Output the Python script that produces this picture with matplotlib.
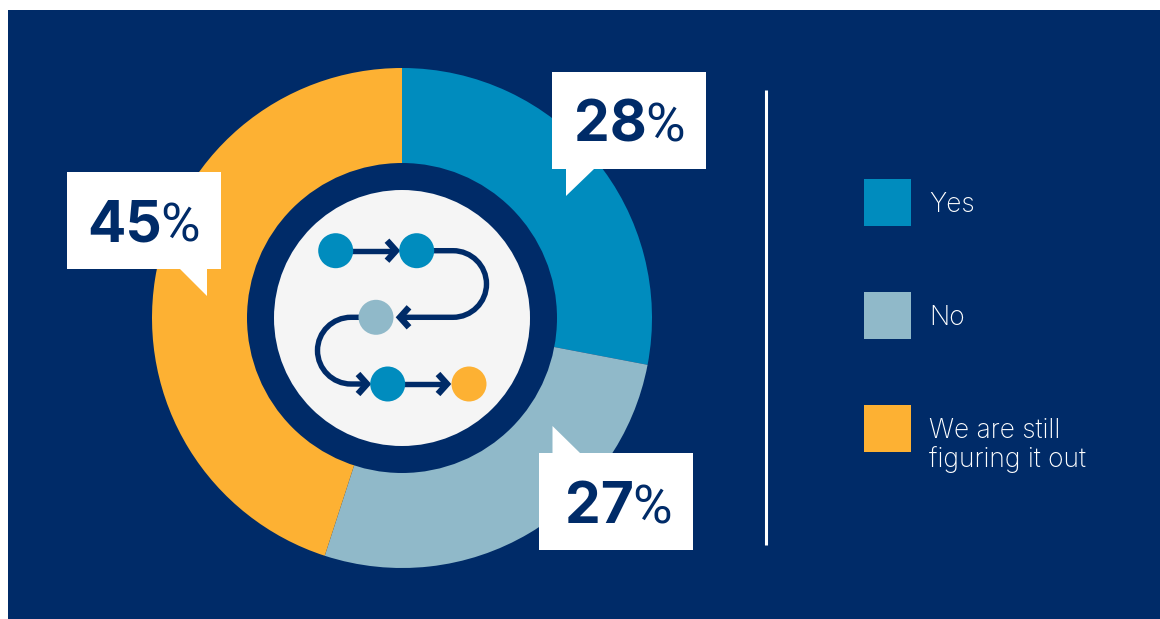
import matplotlib
matplotlib.use("Agg")
import matplotlib.pyplot as plt
from matplotlib.patches import Circle, Rectangle, Polygon, PathPatch
from matplotlib.path import Path

categories = ["Yes", "No", "We are still\nfiguring it out"]
shares = [28, 27, 45]
colors = ["#008CBE", "#90B9C9", "#FDB133"]

NAVY = "#002B68"
W, H = 1160, 619
plt.rcParams["font.family"] = ["Inter", "DejaVu Sans"]


def flip(y):  # pixel rows count from the top, the axes from the bottom
    return H - y


fig = plt.figure(figsize=(W / 100, H / 100), dpi=100, facecolor="white")
ax = fig.add_axes([0, 0, 1, 1])
ax.axis("off")

ax.add_patch(Rectangle((8, 0), W - 8, flip(10), facecolor=NAVY, edgecolor="none", zorder=0))

# donut
cx, cy = 402, flip(318)
ax.pie(shares, colors=colors, startangle=90, counterclock=False, radius=250,
       center=(cx, cy), frame=True, wedgeprops={"linewidth": 0})
ax.add_patch(Circle((cx, cy), 155, facecolor=NAVY, edgecolor="none", zorder=3))
ax.add_patch(Circle((cx, cy), 128, facecolor="#F5F5F5", edgecolor="none", zorder=4))
ax.set_xlim(0, W)
ax.set_ylim(0, H)
ax.set_aspect("equal")
ax.axis("off")


# flow icon in the middle
def stroke(verts, codes=None, lw=3.9):
    verts = [(x, flip(y)) for x, y in verts]
    path = Path(verts, codes) if codes else Path(verts)
    ax.add_patch(PathPatch(path, facecolor="none", edgecolor=NAVY, lw=lw, zorder=5,
                           capstyle="butt", joinstyle="miter"))


def chevron(x, y, direction):
    stroke([(x - direction * 12, y - 10), (x - direction * 3, y), (x - direction * 12, y + 10)], lw=4.6)


C4 = Path.CURVE4
k = 0.55 * 33.5
stroke([(345, 250.7), (396, 250.7)])
chevron(399, 250.7, 1)
stroke([(430, 250.7), (453, 250.7),
        (453 + k, 250.7), (486.5, 284 - k), (486.5, 284),
        (486.5, 284 + k), (453 + k, 317.3), (453, 317.3),
        (400, 317.3)],
       [Path.MOVETO, Path.LINETO, C4, C4, C4, C4, C4, C4, Path.LINETO])
chevron(397, 317.3, -1)
stroke([(365, 317.3), (351, 317.3),
        (351 - k, 317.3), (317.5, 350.5 - k), (317.5, 350.5),
        (317.5, 350.5 + k), (351 - k, 384), (351, 384),
        (365, 384)],
       [Path.MOVETO, Path.LINETO, C4, C4, C4, C4, C4, C4, Path.LINETO])
chevron(370, 384, 1)
stroke([(400, 384), (447, 384)])
chevron(450, 384, 1)

nodes = [(335.7, 250.7, colors[0]), (416.7, 250.7, colors[0]), (376, 317.3, colors[1]),
         (387.7, 384, colors[0]), (469, 384, colors[2])]
for x, y, c in nodes:
    ax.add_patch(Circle((x, flip(y)), 17.5, facecolor=c, edgecolor="none", zorder=6))

# value callouts: box left/top/right/bottom, then the tail
boxes = [(552, 72, 706, 169), (539, 453, 693, 550), (67, 172, 221, 269)]
tails = [[(566, 169), (566, 196), (594, 169)],
         [(552.5, 453), (552.5, 426), (580, 453)],
         [(180, 269), (207, 269), (207, 296)]]
for share, (l, t, r, b), tail in zip(shares, boxes, tails):
    ax.add_patch(Rectangle((l, flip(b)), r - l, b - t, facecolor="white", edgecolor="none", zorder=7))
    ax.add_patch(Polygon([(x, flip(y)) for x, y in tail], facecolor="white", edgecolor="none", zorder=7))
    ax.text(l + 95, flip(b - 27), str(share), color=NAVY, fontsize=41, fontweight="bold",
            ha="right", va="baseline", zorder=8)
    ax.text(l + 93, flip(b - 27), "%", color=NAVY, fontsize=39, fontweight="normal",
            family=["Roboto", "DejaVu Sans"], ha="left", va="baseline", zorder=8)

# divider
ax.plot([766, 766], [flip(90), flip(545)], color="white", lw=2.2, solid_capstyle="butt", zorder=2)

# legend
swatch_tops = [179, 292, 405]
baselines = [212.5, 325, 437.5]
for name, c, top, base in zip(categories, colors, swatch_tops, baselines):
    ax.add_patch(Rectangle((864, flip(top + 47)), 47, 47, facecolor=c, edgecolor="none", zorder=2))
    for i, line in enumerate(name.split("\n")):
        ax.text(929, flip(base + i * 29.3), line, color="white", fontsize=19, fontweight="light",
                ha="left", va="baseline", zorder=2)

fig.savefig("out.png", dpi=100, facecolor="white")
